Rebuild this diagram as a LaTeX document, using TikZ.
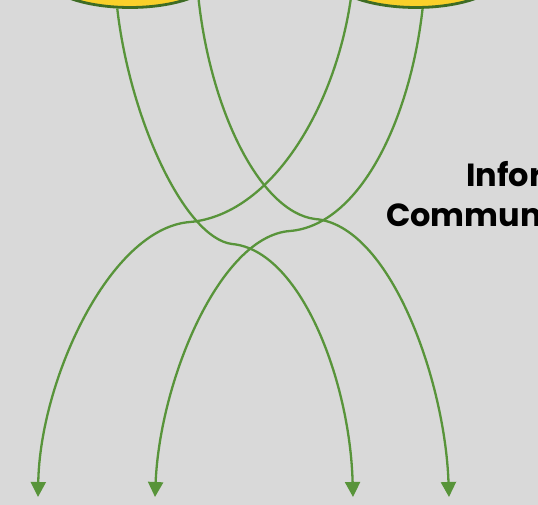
\documentclass[tikz,border=0pt]{standalone}
\usepackage{fontspec}
\setmainfont{Poppins}
\usetikzlibrary{arrows.meta,shapes.geometric}
\definecolor{panel}{RGB}{217,217,217}
\definecolor{leaf}{RGB}{88,148,58}
\definecolor{rim}{RGB}{62,108,36}
\definecolor{sun}{RGB}{250,208,42}
\tikzset{
    source/.style ={
        shape=ellipse,
        draw=rim,
        fill=sun,
        line width=2.8pt,
        minimum width=180pt,
        minimum height=72pt,
        inner sep=0pt
    },
    flow/.style ={
        draw=leaf,
        line width=2.3pt,
        -{Triangle[width=15pt,length=15pt]}
    },
    caption/.style ={
        font=\bfseries\fontsize{32}{38}\selectfont,
        anchor=base west,
        inner sep=0pt
    }
}
\begin{document}
\begin{tikzpicture}[x=1pt,y=-1pt]
    \useasboundingbox (0,0) rectangle (538,505);
    \clip (0,0) rectangle (538,505);
    \fill[panel] (0,0) rectangle (538,505);
    \node[source] (left) at (130,-28.5) {};
    \node[source] (right) at (416,-28.5) {};
    \node[caption] (info) at (466,187) {Information};
    \node[caption] (comm) at (386,226) {Communication};
    \coordinate (bendA) at (232,244);
    \coordinate (bendB) at (315,219);
    \coordinate (bendC) at (190,222);
    \coordinate (bendD) at (290,231);
    \coordinate (outA) at (353,497);
    \coordinate (outB) at (449,497);
    \coordinate (outC) at (38,497);
    \coordinate (outD) at (155,497);
    \draw[flow] (left.-109) .. controls (130,120) and (185,238) .. (bendA)
        .. controls (300,250) and (350,380) .. (outA);
    \draw[flow] (left.-20) .. controls (210,110) and (260,212) .. (bendB)
        .. controls (390,225) and (445,380) .. (outB);
    \draw[flow] (right.-158) .. controls (335,110) and (270,215) .. (bendC)
        .. controls (110,228) and (40,380) .. (outC);
    \draw[flow] (right.-80) .. controls (410,120) and (360,225) .. (bendD)
        .. controls (220,236) and (160,380) .. (outD);
\end{tikzpicture}
\end{document}
